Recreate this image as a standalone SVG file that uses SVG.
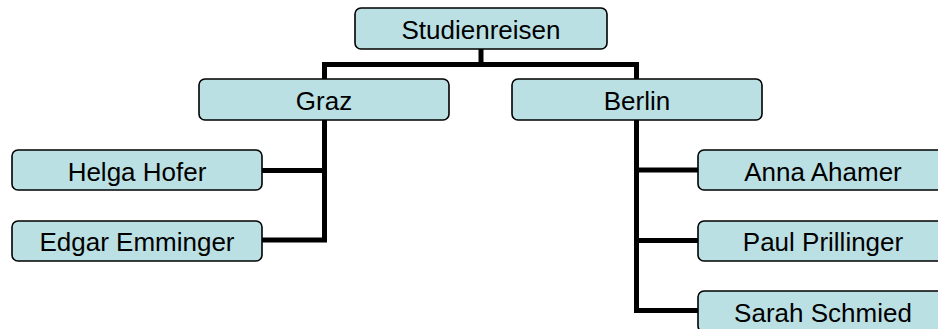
<svg xmlns="http://www.w3.org/2000/svg" width="938" height="329" viewBox="0 0 938 329">
  <style>
    .box { fill: #bbe0e3; stroke: #000; stroke-width: 1.6; }
    .lbl { font-family: "Liberation Sans", Arial, sans-serif; font-size: 26px; fill: #000; text-anchor: middle; }
    .wire { fill: none; stroke: #000; stroke-width: 5; stroke-linejoin: miter; stroke-linecap: butt; }
  </style>
  <rect width="938" height="329" fill="#fff"/>

  <!-- connectors -->
  <g id="connectors">
    <path class="wire" d="M481,49 V64.5"/>
    <path class="wire" d="M324.5,121 V64.5 H636.5 V79"/>
    <path class="wire" d="M262,170.5 H324.5 M262,240 H324.5 M324.5,121 V242.5"/>
    <path class="wire" d="M636.5,120 V310.5 H698 M636.5,170 H698 M636.5,240.5 H698"/>
  </g>

  <g id="studienreisen">
    <rect class="box" x="355" y="8" width="252" height="41" rx="6"/>
    <text class="lbl" x="481" y="39">Studienreisen</text>
  </g>
  <g id="graz">
    <rect class="box" x="199" y="79" width="250" height="41" rx="6"/>
    <text class="lbl" x="324" y="110">Graz</text>
  </g>
  <g id="berlin">
    <rect class="box" x="512" y="79" width="250" height="41" rx="6"/>
    <text class="lbl" x="637" y="110">Berlin</text>
  </g>
  <g id="helga-hofer">
    <rect class="box" x="12" y="150" width="250" height="40" rx="6"/>
    <text class="lbl" x="137" y="180.5">Helga Hofer</text>
  </g>
  <g id="edgar-emminger">
    <rect class="box" x="12" y="221" width="250" height="40" rx="6"/>
    <text class="lbl" x="137" y="251">Edgar Emminger</text>
  </g>
  <g id="anna-ahamer">
    <rect class="box" x="698" y="150" width="250" height="40" rx="6"/>
    <text class="lbl" x="823" y="180.5">Anna Ahamer</text>
  </g>
  <g id="paul-prillinger">
    <rect class="box" x="698" y="221" width="250" height="40" rx="6"/>
    <text class="lbl" x="823" y="251">Paul Prillinger</text>
  </g>
  <g id="sarah-schmied">
    <rect class="box" x="698" y="291" width="250" height="41" rx="6"/>
    <text class="lbl" x="823" y="322">Sarah Schmied</text>
  </g>
</svg>
